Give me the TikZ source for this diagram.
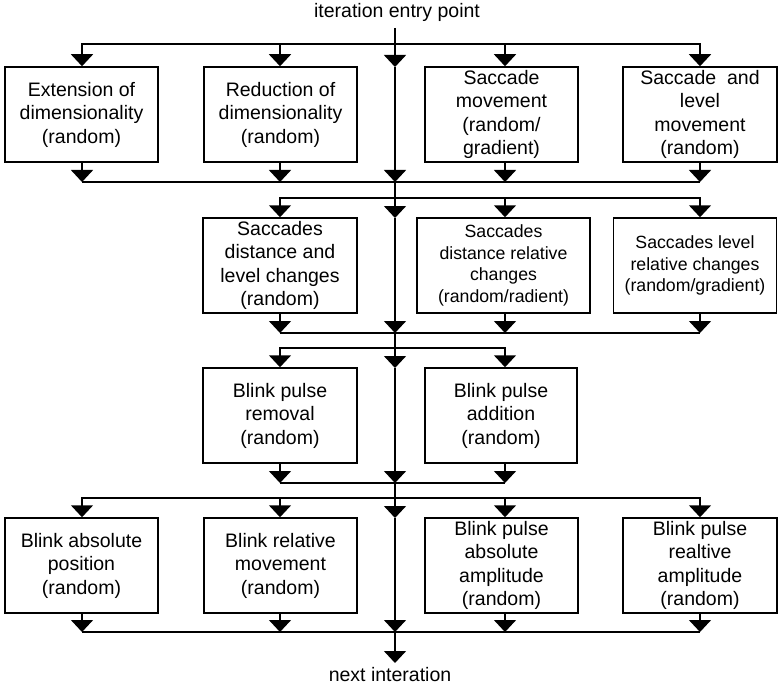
\documentclass[tikz,border=0pt]{standalone}
\usepackage{fontspec}
\setmainfont{Liberation Sans}
\usetikzlibrary{arrows.meta}
\begin{document}
\begin{tikzpicture}[x=1pt,y=-1pt,
  wire/.style={line width=1.6pt},
  flow/.style={wire,-{Triangle[width=22pt,length=12pt]}},
  box/.style={draw,line width=1.5pt,minimum height=95pt,inner sep=0pt,
    align=center,font=\fontsize{19.5}{23.5}\selectfont},
  smallbox/.style={box,font=\fontsize{17.7}{21.7}\selectfont},
  caption/.style={font=\fontsize{19.5}{23.5}\selectfont,inner sep=0pt}]
\useasboundingbox (0,0) rectangle (778,687);

% column positions of the branch arrows
\coordinate (c1) at (82,0);
\coordinate (c2) at (280,0);
\coordinate (c3) at (505,0);
\coordinate (c4) at (700,0);

% entry and exit labels
\node[caption] (entry) at (397,12) {iteration entry point};
\node[caption,anchor=north] (exit) at (390,667) {next interation};

% points on the central bypass line
\coordinate (m0) at (395,28);
\coordinate (fA) at (395,44);
\coordinate (m1) at (395,67);
\coordinate (m2) at (395,182);
\coordinate (fC) at (395,198);
\coordinate (m3) at (395,218);
\coordinate (m4) at (395,333);
\coordinate (fE) at (395,348);
\coordinate (m5) at (395,368);
\coordinate (m6) at (395,483);
\coordinate (fG) at (395,498);
\coordinate (m7) at (395,518);
\coordinate (m8) at (395,632);
\coordinate (m9) at (395,663);

% first stage
\node[box,minimum width=153pt] (b1) at (81.5,114.5) {Extension of\\dimensionality\\(random)};
\node[box,minimum width=153pt] (b2) at (280.5,114.5) {Reduction of\\dimensionality\\(random)};
\node[box,minimum width=153pt] (b3) at (501.5,114.5) {Saccade\\movement\\(random/\\gradient)};
\node[box,minimum width=154pt] (b4) at (700,114.5) {Saccade\ \ and\\level\\movement\\(random)};

% second stage
\node[box,minimum width=154pt] (b5) at (280,265.5) {Saccades\\distance and\\level changes\\(random)};
\node[smallbox,minimum width=173pt] (b6) at (503.5,265.5) {Saccades\\distance relative\\changes\\(random/radient)};
\node[smallbox,minimum width=163pt] (b7) at (695,265.5) {Saccades level\\relative changes\\(random/gradient)};

% third stage
\node[box,minimum width=154pt] (b8) at (280,415.5) {Blink pulse\\removal\\(random)};
\node[box,minimum width=152pt] (b9) at (501,415.5) {Blink pulse\\addition\\(random)};

% fourth stage
\node[box,minimum width=153pt] (b10) at (81.5,565.5) {Blink absolute\\position\\(random)};
\node[box,minimum width=153pt] (b11) at (280.5,565.5) {Blink relative\\movement\\(random)};
\node[box,minimum width=153pt] (b12) at (501.5,565.5) {Blink pulse\\absolute\\amplitude\\(random)};
\node[box,minimum width=154pt] (b13) at (700,565.5) {Blink pulse\\realtive\\amplitude\\(random)};

% central bypass line
\draw[flow] (m0) -- (m1);
\draw[flow] (m1) -- (m2);
\draw[flow] (m2) -- (m3);
\draw[flow] (m3) -- (m4);
\draw[flow] (m4) -- (m5);
\draw[flow] (m5) -- (m6);
\draw[flow] (m6) -- (m7);
\draw[flow] (m7) -- (m8);
\draw[flow] (m8) -- (m9);

% stage 1: fan out and collect
\draw[flow] (fA) -| (b1.north -| c1);
\draw[flow] (fA) -| (b2.north -| c2);
\draw[flow] (fA) -| (b3.north -| c3);
\draw[flow] (fA) -| (b4.north -| c4);
\draw[flow] (b1.south -| c1) -- (m2 -| c1);
\draw[flow] (b2.south -| c2) -- (m2 -| c2);
\draw[flow] (b3.south -| c3) -- (m2 -| c3);
\draw[flow] (b4.south -| c4) -- (m2 -| c4);
\draw[wire] (m2 -| c1) -- (m2 -| c4);

% stage 2
\draw[flow] (fC) -| (b5.north -| c2);
\draw[flow] (fC) -| (b6.north -| c3);
\draw[flow] (fC) -| (b7.north -| c4);
\draw[flow] (b5.south -| c2) -- (m4 -| c2);
\draw[flow] (b6.south -| c3) -- (m4 -| c3);
\draw[flow] (b7.south -| c4) -- (m4 -| c4);
\draw[wire] (m4 -| c2) -- (m4 -| c4);

% stage 3
\draw[flow] (fE) -| (b8.north -| c2);
\draw[flow] (fE) -| (b9.north -| c3);
\draw[flow] (b8.south -| c2) -- (m6 -| c2);
\draw[flow] (b9.south -| c3) -- (m6 -| c3);
\draw[wire] (m6 -| c2) -- (m6 -| c3);

% stage 4
\draw[flow] (fG) -| (b10.north -| c1);
\draw[flow] (fG) -| (b11.north -| c2);
\draw[flow] (fG) -| (b12.north -| c3);
\draw[flow] (fG) -| (b13.north -| c4);
\draw[flow] (b10.south -| c1) -- (m8 -| c1);
\draw[flow] (b11.south -| c2) -- (m8 -| c2);
\draw[flow] (b12.south -| c3) -- (m8 -| c3);
\draw[flow] (b13.south -| c4) -- (m8 -| c4);
\draw[wire] (m8 -| c1) -- (m8 -| c4);
\end{tikzpicture}
\end{document}
